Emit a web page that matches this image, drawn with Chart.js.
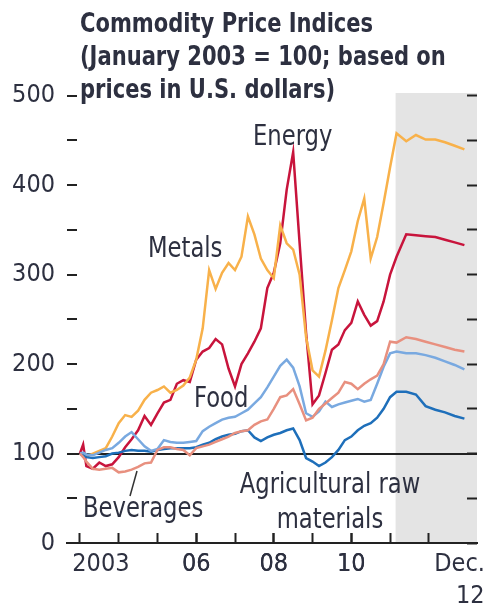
<!DOCTYPE html>
<html>
<head>
    <title>Commodity Price Indices</title>
    <script src="https://cdn.jsdelivr.net/npm/chart.js"></script>
    <style>
        body { margin: 0; background: #fff; }
        #wrap { position: relative; width: 487px; height: 607px; }
        .txt { position: absolute; white-space: nowrap; color: #2d3040;
               font-family: 'Liberation Sans Narrow', 'Arial Narrow', 'DejaVu Sans Condensed', sans-serif;
               font-size: 28px; line-height: 28px;
               transform-origin: 0 0; transform: scaleX(0.9); }
        #title { left: 80px; top: 7px; font-size: 26px; line-height: 33px; font-weight: bold; }
        #agri { left: 330px; top: 466px; line-height: 35px; text-align: center;
                transform-origin: 50% 0; transform: translateX(-50%) scaleX(0.9); }
        svg { position: absolute; left: 0; top: 0; }
    </style>
</head>
<body>
<div id="wrap">
    <canvas id="chart"></canvas>
    <div class="txt" id="title">Commodity Price Indices<br>(January 2003 = 100; based on<br>prices in U.S. dollars)</div>
    <div class="txt" style="left:253px; top:122px;">Energy</div>
    <div class="txt" style="left:148px; top:234px;">Metals</div>
    <div class="txt" style="left:194px; top:384px;">Food</div>
    <div class="txt" style="left:83px; top:494px;">Beverages</div>
    <div class="txt" id="agri">Agricultural raw<br>materials</div>
    <svg width="487" height="607"><line x1="130" y1="496" x2="137" y2="471" stroke="#333" stroke-width="1.5"/></svg>
</div>
<script>
    // months since January 2003
    const months = [0, 1, 2, 4, 6, 8, 10, 12, 14, 16, 18, 20, 22, 24, 26, 28, 30, 32, 34, 36, 38, 40, 42, 44, 46, 48,
        50, 52, 54, 56, 58, 60, 62, 64, 66, 68, 70, 72, 74, 76, 78, 80, 82, 84, 86, 88, 90, 92, 94, 96, 98,
        101, 104, 107, 110, 113, 116, 119];

    const energy = [100, 110, 86, 83, 90, 86, 88, 96, 107, 116, 126, 142, 132, 145, 157, 160, 178, 182, 180, 205, 214, 218, 228, 222, 195, 175,
        200, 212, 225, 240, 285, 302, 335, 395, 437, 335, 235, 155, 165, 190, 216, 222, 238, 246, 270, 255, 243, 248, 270, 300, 320,
        345, 344, 343, 342, 339, 336, 333];
    const metals = [100, 98, 97, 100, 103, 106, 119, 134, 143, 141, 148, 160, 168, 171, 175, 168, 171, 176, 185, 205, 240, 305, 284, 302, 313, 305,
        320, 365, 345, 318, 305, 296, 355, 335, 328, 300, 230, 193, 186, 215, 249, 285, 305, 326, 360, 385, 318, 342, 380, 420, 458,
        449, 456, 451, 451, 448, 444, 440];
    const food = [100, 101, 99, 98, 101, 104, 106, 112, 119, 124, 116, 108, 103, 105, 115, 113, 112, 112, 113, 114, 125, 130, 134, 138, 140, 141,
        145, 149, 156, 163, 174, 186, 198, 205, 196, 175, 145, 141, 147, 158, 152, 155, 157, 159, 161, 158, 160, 178, 197, 212, 214,
        212, 212, 210, 207, 203, 199, 194];
    const beverages = [100, 96, 91, 83, 82, 83, 84, 79, 80, 82, 85, 89, 90, 104, 107, 107, 105, 104, 98, 106, 108, 110, 113, 116, 119, 123,
        125, 126, 132, 136, 138, 150, 163, 165, 172, 155, 137, 140, 150, 156, 162, 168, 180, 178, 172, 178, 183, 187, 200, 225, 224,
        230, 228, 225, 222, 219, 216, 214];
    const agriRaw = [100, 98, 96, 95, 96, 97, 100, 101, 103, 104, 103, 103, 102, 104, 105, 106, 106, 106, 106, 107, 110, 112, 116, 119, 121, 122,
        125, 126, 118, 114, 118, 121, 123, 126, 128, 115, 95, 91, 86, 90, 96, 104, 115, 119, 126, 131, 134, 140, 150, 163, 169,
        169, 166, 153, 149, 146, 142, 139];

    const yearTicks = [0, 12, 24, 36, 48, 60, 72, 84, 96, 108];
    const labelMonths = [6.5, 36, 60, 84, 117.5];
    const labelTexts = ['2003', '06', '08', '10', ['Dec.', '   12']];
    const yTicks = [0, 50, 100, 150, 200, 250, 300, 350, 400, 450, 500];
    const projectionStart = 97.7;

    const FONT = "'Liberation Sans Narrow', 'Arial Narrow', 'DejaVu Sans Condensed', sans-serif";
    const INK = '#2d3040';

    function series(label, values, color) {
        return {
            label: label,
            data: months.map((m, i) => ({x: m, y: values[i]})),
            borderColor: color,
            borderWidth: 2.5,
            pointRadius: 0,
            tension: 0,
            fill: false
        };
    }

    // grey band for projections, painted before the axes so the 100 line crosses it
    const shade = {
        id: 'shade',
        beforeDraw(chart) {
            const a = chart.chartArea;
            const x0 = chart.scales.x.getPixelForValue(projectionStart);
            chart.ctx.save();
            chart.ctx.fillStyle = '#e4e4e4';
            chart.ctx.fillRect(x0, a.top, a.right - x0, a.bottom - a.top);
            chart.ctx.restore();
        }
    };

    new Chart(document.getElementById('chart'), {
        type: 'line',
        data: {
            datasets: [
                series('Beverages', beverages, '#e8907f'),
                series('Food', food, '#79a9e0'),
                series('Agricultural raw materials', agriRaw, '#1e6fba'),
                series('Metals', metals, '#f8b14a'),
                series('Energy', energy, '#c8143c')
            ]
        },
        options: {
            responsive: true,
            maintainAspectRatio: false,
            animation: false,
            layout: { autoPadding: false, padding: { top: 93, left: 0, right: 0, bottom: 0 } },
            plugins: { legend: { display: false }, tooltip: { enabled: false } },
            scales: {
                x: {
                    type: 'linear',
                    min: -4,
                    max: 122.9,
                    afterBuildTicks: s => { s.ticks = yearTicks.concat(labelMonths).map(v => ({value: v})); },
                    afterFit: s => { s.height = 64; s.paddingLeft = 0; s.paddingRight = 0; },
                    border: { display: true, color: '#222', width: 2 },
                    grid: {
                        drawOnChartArea: false,
                        tickLength: -10,
                        tickWidth: 2,
                        tickColor: c => yearTicks.includes(c.tick.value) ? '#222' : 'rgba(0,0,0,0)'
                    },
                    ticks: {
                        autoSkip: false,
                        maxRotation: 0,
                        padding: 15,
                        color: INK,
                        font: { family: FONT, size: 25, lineHeight: 1.3 },
                        callback: v => {
                            const i = labelMonths.indexOf(v);
                            return i >= 0 ? labelTexts[i] : '';
                        }
                    }
                },
                y: {
                    position: 'left',
                    min: 0,
                    max: 503,
                    afterBuildTicks: s => { s.ticks = yTicks.map(v => ({value: v})); },
                    afterFit: s => { s.width = 67; s.paddingTop = 0; s.paddingBottom = 0; },
                    border: { display: false },
                    grid: {
                        tickLength: -10,
                        tickWidth: 2,
                        tickColor: '#222',
                        lineWidth: 2,
                        color: c => c.tick && c.tick.value === 100 ? '#222' : 'rgba(0,0,0,0)'
                    },
                    ticks: {
                        padding: 22,
                        color: INK,
                        font: { family: FONT, size: 25 },
                        callback: v => v % 100 === 0 ? v : ''
                    }
                },
                y2: {
                    position: 'right',
                    min: 0,
                    max: 503,
                    afterBuildTicks: s => { s.ticks = yTicks.map(v => ({value: v})); },
                    afterFit: s => { s.width = 10; },
                    border: { display: false },
                    grid: { drawOnChartArea: false, tickLength: -10, tickWidth: 2, tickColor: '#222' },
                    ticks: { display: false }
                }
            }
        },
        plugins: [shade]
    });
</script>
</body>
</html>
